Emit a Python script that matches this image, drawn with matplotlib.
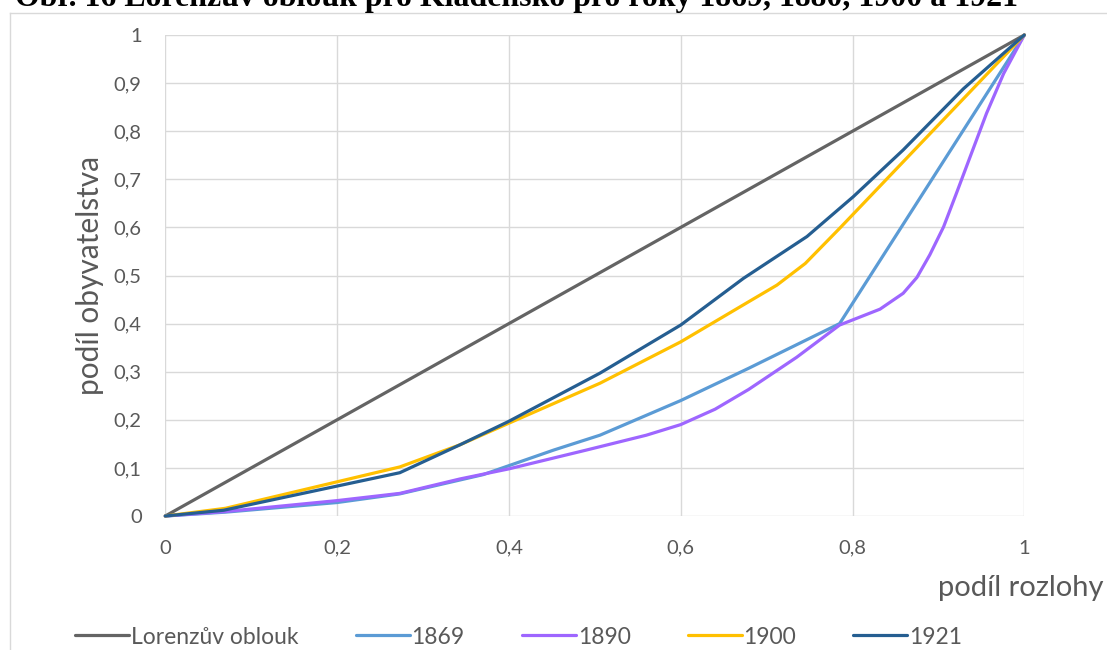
import matplotlib
matplotlib.use("Agg")
import matplotlib.pyplot as plt
from matplotlib.lines import Line2D
from matplotlib.ticker import FixedLocator, FuncFormatter

# ---- data ----
series_names = ["Lorenzův oblouk", "1869", "1890", "1900", "1921"]

x_lorenz = [0, 1]
y_lorenz = [0, 1]

x_1869 = [0, 0.07, 0.2, 0.273, 0.37, 0.452, 0.506, 0.6, 0.679, 0.785, 1]
y_1869 = [0, 0.008, 0.028, 0.046, 0.086, 0.137, 0.168, 0.24, 0.307, 0.4, 1]

x_1890 = [0, 0.068, 0.2, 0.273, 0.343, 0.4, 0.49, 0.56, 0.6, 0.64, 0.679, 0.735, 0.785,
          0.832, 0.859, 0.875, 0.890, 0.906, 0.921, 0.937, 0.956, 0.976, 1]
y_1890 = [0, 0.009, 0.032, 0.047, 0.077, 0.098, 0.137, 0.168, 0.19, 0.222, 0.263, 0.33, 0.397,
          0.430, 0.463, 0.496, 0.543, 0.601, 0.671, 0.747, 0.837, 0.92, 1]

x_1900 = [0, 0.07, 0.273, 0.343, 0.4, 0.506, 0.6, 0.673, 0.712, 0.745, 0.785, 1]
y_1900 = [0, 0.016, 0.102, 0.148, 0.193, 0.276, 0.362, 0.439, 0.48, 0.525, 0.598, 1]

x_1921 = [0, 0.068, 0.273, 0.343, 0.399, 0.506, 0.6, 0.673, 0.747, 0.801, 0.859, 0.929, 1]
y_1921 = [0, 0.012, 0.090, 0.148, 0.196, 0.297, 0.397, 0.494, 0.581, 0.664, 0.761, 0.888, 1]

x_ticks = [0, 0.2, 0.4, 0.6, 0.8, 1]
y_ticks = [0, 0.1, 0.2, 0.3, 0.4, 0.5, 0.6, 0.7, 0.8, 0.9, 1]

colors = ["#646464", "#5B9BD5", "#9E66FF", "#FFC000", "#255E91"]

title_text = "Obr. 16 Lorenzův oblouk pro Kladensko pro roky 1869, 1880, 1900 a 1921"

# ---- figure ----
W, H = 1107, 650
plt.rcParams['font.family'] = ['Lato', 'DejaVu Sans']
fig = plt.figure(figsize=(W / 100, H / 100), dpi=100)
fig.patch.set_facecolor("white")

ax = fig.add_axes([165.3 / W, 1 - 516 / H, (1024.3 - 165.3) / W, (516 - 35) / H])

xs = [x_lorenz, x_1869, x_1890, x_1900, x_1921]
ys = [y_lorenz, y_1869, y_1890, y_1900, y_1921]
for xv, yv, c, n in zip(xs, ys, colors, series_names):
    ax.plot(xv, yv, color=c, lw=2.3, label=n, solid_joinstyle="round",
            solid_capstyle="round", clip_on=False)

ax.set_xlim(0, 1)
ax.set_ylim(0, 1)
ax.xaxis.set_major_locator(FixedLocator(x_ticks))
ax.yaxis.set_major_locator(FixedLocator(y_ticks))
fmt = FuncFormatter(lambda v, p: ("%g" % round(v, 2)).replace(".", ","))
ax.xaxis.set_major_formatter(fmt)
ax.yaxis.set_major_formatter(fmt)
ax.grid(True, color="#D9D9D9", lw=1.0)
ax.set_axisbelow(True)
for s in ax.spines.values():
    s.set_visible(False)
ax.tick_params(length=0, labelsize=14.5, colors="#595959", pad=0)
ax.tick_params(axis="y", pad=17)
ax.tick_params(axis="x", pad=17)

fig.text(90 / W, 1 - 275.5 / H, "podíl obyvatelstva", rotation=90, ha="center",
         va="center", fontsize=21.5, color="#595959")
fig.text(1103 / W, 1 - 588 / H, "podíl rozlohy", ha="right", va="center",
         fontsize=21, color="#595959")

leg_fs = 16.5
fs_px = leg_fs * 100 / 72
leg = fig.legend(loc="center left", bbox_to_anchor=(75 / W, 1 - 637 / H),
                 ncol=5, frameon=False, fontsize=leg_fs,
                 handlelength=54 / fs_px, handletextpad=2 / fs_px,
                 columnspacing=57 / fs_px, borderpad=0, borderaxespad=0)
for t in leg.get_texts():
    t.set_color("#595959")

# chart border (partially cut like the reference)
fig.add_artist(Line2D([9.5 / W, 9.5 / W], [0, 1 - 12.5 / H], transform=fig.transFigure,
                      color="#D9D9D9", lw=1.0))
fig.add_artist(Line2D([9.5 / W, 1], [1 - 12.5 / H, 1 - 12.5 / H], transform=fig.transFigure,
                      color="#D9D9D9", lw=1.0))

# title, mostly cut off at the top (as in the reference)
title = fig.text(15 / W, 1 - 6 / H, title_text, ha="left", va="baseline",
                 fontsize=20, fontweight="bold", color="black",
                 family=["Liberation Serif", "DejaVu Serif"])
fig.canvas.draw()
bb = title.get_window_extent()
title.set_fontsize(20 * 1001 / bb.width)

fig.savefig("out.png", dpi=100, facecolor="white")
